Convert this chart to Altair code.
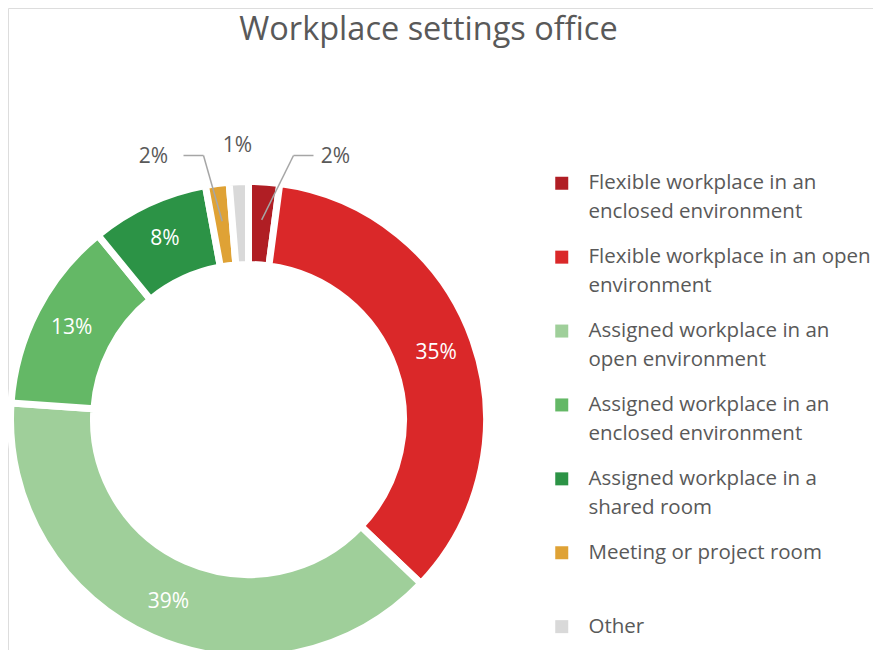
import altair as alt
import pandas as pd

categories = [
    "Flexible workplace in an enclosed environment",
    "Flexible workplace in an open environment",
    "Assigned workplace in an open environment",
    "Assigned workplace in an enclosed environment",
    "Assigned workplace in a shared room",
    "Meeting or project room",
    "Other",
]
values = [2.1, 35, 39, 13, 8, 1.6, 1.3]
colors = ["#B01E24", "#DA2829", "#9FCF9A", "#64B866", "#2C9346", "#DFA235", "#D9D9D9"]
legend_lines = [
    ["Flexible workplace in an", "enclosed environment"],
    ["Flexible workplace in an open", "environment"],
    ["Assigned workplace in an", "open environment"],
    ["Assigned workplace in an", "enclosed environment"],
    ["Assigned workplace in a", "shared room"],
    ["Meeting or project room", ""],
    ["Other", ""],
]
title_text = "Workplace settings office"

FONT = "Open Sans"
CX, CY = 240.5, 411.5
R_OUT, R_IN = 238, 155
R_LAB = 199

df = pd.DataFrame({"category": categories, "value": values, "idx": list(range(len(values)))})

label_map = "{" + ", ".join(
    "'" + c + "': [" + ", ".join("'" + s + "'" for s in l) + "]" for c, l in zip(categories, legend_lines)
) + "}[datum.label]"

base = alt.Chart(df).transform_window(
    cum="sum(value)", sort=[alt.SortField("idx", order="ascending")], frame=[None, 0]
).transform_joinaggregate(
    total="sum(value)"
).transform_calculate(
    pct="datum.value / datum.total",
    mid="(datum.cum - datum.value / 2) / datum.total * 2 * PI",
).transform_calculate(
    m="datum.mid > PI ? datum.mid - 2 * PI : datum.mid",
).transform_calculate(
    sgn="datum.m > 0 ? 1 : -1",
    lead="abs(datum.m) > 0.055",
)

arcs = base.mark_arc(outerRadius=R_OUT, innerRadius=R_IN, stroke="white", strokeWidth=7).encode(
    theta=alt.Theta("value:Q", stack=True),
    order=alt.Order("idx:Q"),
    color=alt.Color(
        "category:N",
        sort=categories,
        scale=alt.Scale(domain=categories, range=colors),
        legend=alt.Legend(
            title=None,
            orient="none",
            legendX=543.5,
            legendY=165,
            padding=0,
            symbolType="square",
            symbolSize=169,
            symbolStrokeWidth=0,
            symbolOpacity=1,
            labelFont=FONT,
            labelFontSize=20.5,
            labelColor="#595959",
            labelLimit=500,
            labelOffset=16.5,
            rowPadding=23.9,
            labelExpr=label_map,
        ),
    ),
    x=alt.value(CX),
    y=alt.value(CY),
)

inner = base.transform_filter("datum.pct >= 0.05").transform_calculate(
    tx=f"{CX} + {R_LAB} * sin(datum.mid)",
    ty=f"{CY} - {R_LAB} * cos(datum.mid)",
).mark_text(font=FONT, fontSize=21, color="white", align="center", baseline="middle").encode(
    x=alt.X("tx:Q", scale=None, axis=None),
    y=alt.Y("ty:Q", scale=None, axis=None),
    text=alt.Text("pct:Q", format=".0%"),
)

outer = base.transform_filter("datum.pct < 0.05").transform_calculate(
    tx=f"datum.lead ? {CX} + datum.sgn * 91 - 4 : {CX} + 274 * sin(datum.mid)",
    ty=f"datum.lead ? {CY} - 263 : {CY} - 274 * cos(datum.mid)",
).mark_text(font=FONT, fontSize=21, color="#595959", align="center", baseline="middle").encode(
    x=alt.X("tx:Q", scale=None, axis=None),
    y=alt.Y("ty:Q", scale=None, axis=None),
    text=alt.Text("pct:Q", format=".0%"),
)

leaders = base.transform_filter("datum.pct < 0.05 && datum.lead").transform_calculate(
    ix=f"{CX} + 200 * sin(datum.mid)",
    iy=f"{CY} - 200 * cos(datum.mid)",
    ex=f"{CX} + datum.sgn * 45",
    ey=f"{CY} - 264",
    hx=f"{CX} + datum.sgn * 65",
)

diag = leaders.mark_rule(color="#A6A6A6", strokeWidth=1.5).encode(
    x=alt.X("ix:Q", scale=None, axis=None),
    y=alt.Y("iy:Q", scale=None, axis=None),
    x2="ex:Q",
    y2="ey:Q",
)
horiz = leaders.mark_rule(color="#A6A6A6", strokeWidth=1.5).encode(
    x=alt.X("ex:Q", scale=None, axis=None),
    y=alt.Y("ey:Q", scale=None, axis=None),
    x2="hx:Q",
    y2="ey:Q",
)

chart = alt.layer(arcs, diag, horiz, inner, outer).properties(
    width=865,
    height=642,
    autosize=alt.AutoSizeParams(type="none"),
    padding=0,
    title=alt.TitleParams(
        title_text,
        font=FONT,
        fontSize=32.5,
        fontWeight="normal",
        color="#595959",
        anchor="middle",
        baseline="alphabetic",
        offset=0,
        dx=-12,
        dy=64,
    ),
).configure_view(stroke="transparent", strokeWidth=0, strokeOpacity=0).configure(
    background="white",
    style={"guide-label": {"lineHeight": 29}},
)

chart.save("out.html", embed_options={"renderer": "svg", "actions": False})
